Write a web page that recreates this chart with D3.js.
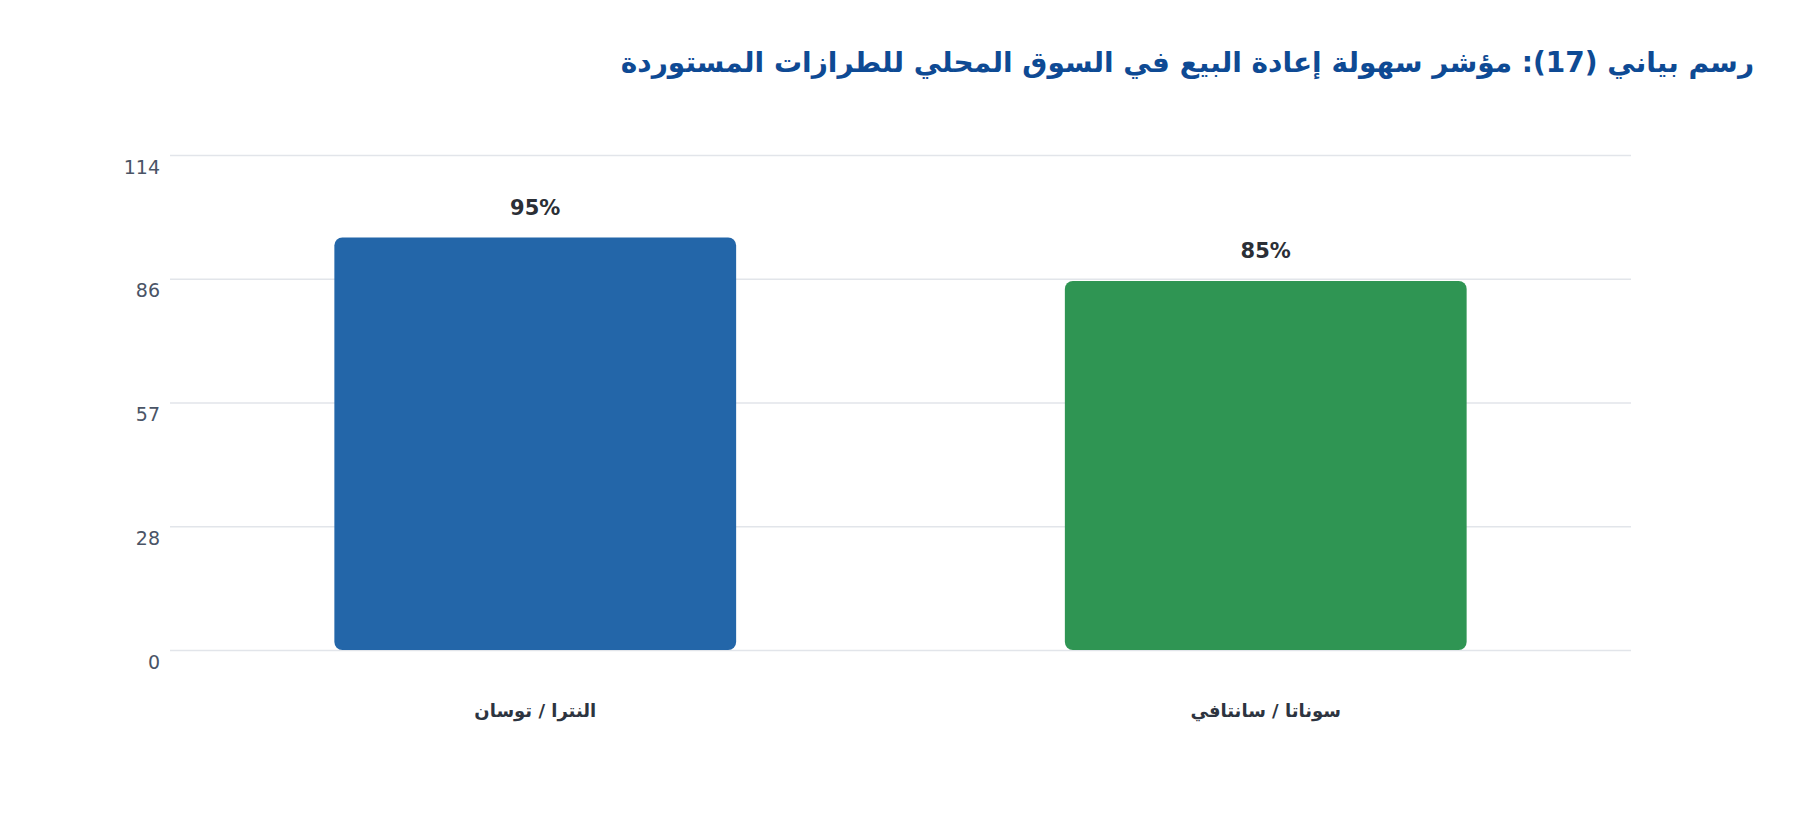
<!DOCTYPE html>
<html lang="ar">
<head>
<meta charset="utf-8">
<script src="https://cdn.jsdelivr.net/npm/d3@7"></script>
<style>
  html, body { margin: 0; padding: 0; background: #ffffff; }
  svg { display: block; font-family: "DejaVu Sans", sans-serif; }
</style>
</head>
<body>
<svg id="chart" width="1800" height="820"></svg>
<script>
const title = "رسم بياني (17): مؤشر سهولة إعادة البيع في السوق المحلي للطرازات المستوردة"
const categories = ["النترا / توسان", "سوناتا / سانتافي"]
const values = [95, 85]
const barColors = ["#2366a9", "#2f9553"]
const yMax = 114
const tickValues = [0, 28.5, 57, 85.5, 114]
const tickLabels = ["0", "28", "57", "86", "114"]

const width = 1800
const height = 820
const margin = { top: 155, right: 169, bottom: 170, left: 170 }

const svg = d3.select("#chart")

// title, right aligned (rtl start = right edge)
svg.append("text")
    .attr("x", 1754)
    .attr("y", 72)
    .attr("text-anchor", "start")
    .attr("direction", "rtl")
    .attr("font-size", 28)
    .attr("font-weight", "bold")
    .attr("fill", "#0e4a94")
    .text(title)

const x = d3.scaleBand()
    .domain(categories)
    .range([margin.left, width - margin.right])
    .paddingInner(0.45)
    .paddingOuter(0.225)

const y = d3.scaleLinear()
    .domain([0, yMax])
    .range([height - margin.bottom, margin.top])

// gridlines + tick labels
const yAxis = svg.append("g")
    .attr("transform", `translate(${margin.left},0)`)
    .call(d3.axisLeft(y)
        .tickValues(tickValues)
        .tickFormat((d, i) => tickLabels[i])
        .tickSize(-(width - margin.left - margin.right))
        .tickPadding(10))

yAxis.select(".domain").remove()
yAxis.selectAll(".tick line")
    .attr("stroke", "#e2e5ea")
    .attr("stroke-width", 1.5)
yAxis.selectAll(".tick text")
    .attr("font-size", 19)
    .attr("font-family", "DejaVu Sans, sans-serif")
    .attr("fill", "#4a5466")
    .attr("dy", "0.95em")

// bars
svg.append("g")
    .selectAll("rect")
    .data(values)
    .join("rect")
    .attr("x", (d, i) => x(categories[i]))
    .attr("y", d => y(d))
    .attr("width", x.bandwidth())
    .attr("height", d => y(0) - y(d))
    .attr("rx", 8)
    .attr("fill", (d, i) => barColors[i])

// value labels
svg.append("g")
    .selectAll("text")
    .data(values)
    .join("text")
    .attr("x", (d, i) => x(categories[i]) + x.bandwidth() / 2)
    .attr("y", d => y(d) - 23)
    .attr("text-anchor", "middle")
    .attr("font-size", 21)
    .attr("font-weight", "bold")
    .attr("fill", "#2b2f36")
    .text(d => d + "%")

// category labels
svg.append("g")
    .selectAll("text")
    .data(categories)
    .join("text")
    .attr("x", d => x(d) + x.bandwidth() / 2)
    .attr("y", 717)
    .attr("text-anchor", "middle")
    .attr("direction", "rtl")
    .attr("font-size", 18)
    .attr("font-weight", "bold")
    .attr("fill", "#2d3440")
    .text(d => d)
</script>
</body>
</html>
